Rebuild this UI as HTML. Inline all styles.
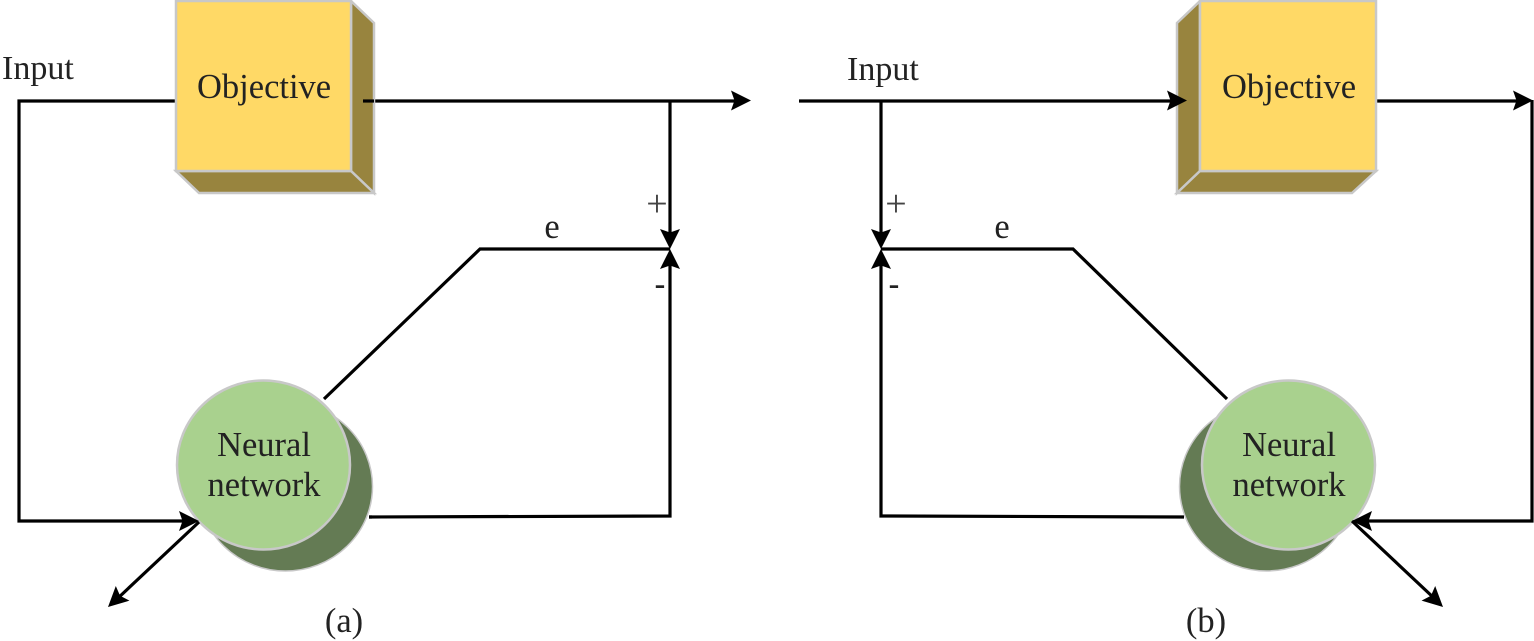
<!DOCTYPE html>
<html>
<head>
<meta charset="utf-8">
<style>
html,body{margin:0;padding:0;background:#fff;width:1534px;height:641px;overflow:hidden}
svg{display:block}
text{font-family:"Liberation Serif",serif;font-size:34.5px;fill:#222}
text.s{font-size:34px}
</style>
</head>
<body>
<svg width="1534" height="641" viewBox="0 0 1534 641" xmlns="http://www.w3.org/2000/svg">
<defs>
<g id="ah"><path d="M0,0 L-20,-10 L-16.500,0 L-20,10 Z" fill="#000"/></g>
</defs>

<!-- LEFT -->
<g fill="none" stroke="#000" stroke-width="3.200">
<path d="M176,101 H19 V521 H190"/>
<path d="M363,101 H735"/>
<path d="M670,101 V240"/>
<path d="M369,517 L670,516 V258"/>
<path d="M670,249 H480 L324,399"/>
</g>
<polygon points="351,1 374,23 374,193 351,171" fill="#98843e" stroke="#c8c8c8" stroke-width="2.500"/>
<polygon points="176,171 351,171 374,193 199,193" fill="#98843e" stroke="#c8c8c8" stroke-width="2.500"/>
<rect x="176" y="1" width="175" height="170" fill="#ffd966" stroke="#c8c8c8" stroke-width="2.500"/>
<path d="M363,101 H374" stroke="#000" stroke-width="3.200"/>
<ellipse cx="285.500" cy="486.500" rx="87" ry="84.500" fill="#647b54" stroke="#c8c8c8" stroke-width="1.500"/>
<ellipse cx="263.500" cy="465" rx="86.500" ry="84.500" fill="#a9d18e" stroke="#c8c8c8" stroke-width="2.500"/>
<path d="M369,517 H372" stroke="#000" stroke-width="3.200"/>
<path d="M199,522 L117,599" fill="none" stroke="#000" stroke-width="3.200"/>
<use href="#ah" transform="translate(751,100.500)"/>
<use href="#ah" transform="translate(670,249) rotate(90)"/>
<use href="#ah" transform="translate(670,249) rotate(-90)"/>
<use href="#ah" transform="translate(199,521)"/>
<use href="#ah" transform="translate(108,607) rotate(137)"/>

<text class="s" x="2" y="79">Input</text>
<text x="197" y="98">Objective</text>
<text x="264" y="456" text-anchor="middle">Neural</text>
<text x="264" y="496" text-anchor="middle">network</text>
<text x="552" y="238" text-anchor="middle">e</text>
<text x="657" y="216" text-anchor="middle" style="font-size:38px;fill:#444">+</text>
<text x="660" y="294" text-anchor="middle" style="font-size:32px;font-weight:bold">-</text>
<text x="344" y="632" text-anchor="middle">(a)</text>

<!-- RIGHT -->
<g fill="none" stroke="#000" stroke-width="3.200">
<path d="M799,101 H1172"/>
<path d="M881,101 V240"/>
<path d="M1184,517 L881,516 V258"/>
<path d="M881,249 H1073 L1227,399"/>
<path d="M1376,101 H1520"/>
<path d="M1532,100 V521 H1362"/>
</g>
<polygon points="1200,1 1177,23 1177,193 1200,171" fill="#98843e" stroke="#c8c8c8" stroke-width="2.500"/>
<polygon points="1200,171 1376,171 1352,193 1177,193" fill="#98843e" stroke="#c8c8c8" stroke-width="2.500"/>
<rect x="1200" y="1" width="176" height="170" fill="#ffd966" stroke="#c8c8c8" stroke-width="2.500"/>
<ellipse cx="1266.500" cy="486.500" rx="87" ry="84.500" fill="#647b54" stroke="#c8c8c8" stroke-width="1.500"/>
<ellipse cx="1288.500" cy="465" rx="86.500" ry="84.500" fill="#a9d18e" stroke="#c8c8c8" stroke-width="2.500"/>
<path d="M1352,521 L1435,599" fill="none" stroke="#000" stroke-width="3.200"/>
<use href="#ah" transform="translate(1187,100.500)"/>
<use href="#ah" transform="translate(1533,100.500)"/>
<use href="#ah" transform="translate(881,249) rotate(90)"/>
<use href="#ah" transform="translate(881,249) rotate(-90)"/>
<use href="#ah" transform="translate(1352,521) rotate(180)"/>
<use href="#ah" transform="translate(1443,607) rotate(43)"/>

<text class="s" x="847" y="80">Input</text>
<text x="1222" y="98">Objective</text>
<text x="1289" y="456" text-anchor="middle">Neural</text>
<text x="1289" y="496" text-anchor="middle">network</text>
<text x="1002" y="238" text-anchor="middle">e</text>
<text x="896" y="216" text-anchor="middle" style="font-size:38px;fill:#444">+</text>
<text x="894" y="294" text-anchor="middle" style="font-size:32px;font-weight:bold">-</text>
<text x="1206" y="632" text-anchor="middle">(b)</text>
</svg>
</body>
</html>
